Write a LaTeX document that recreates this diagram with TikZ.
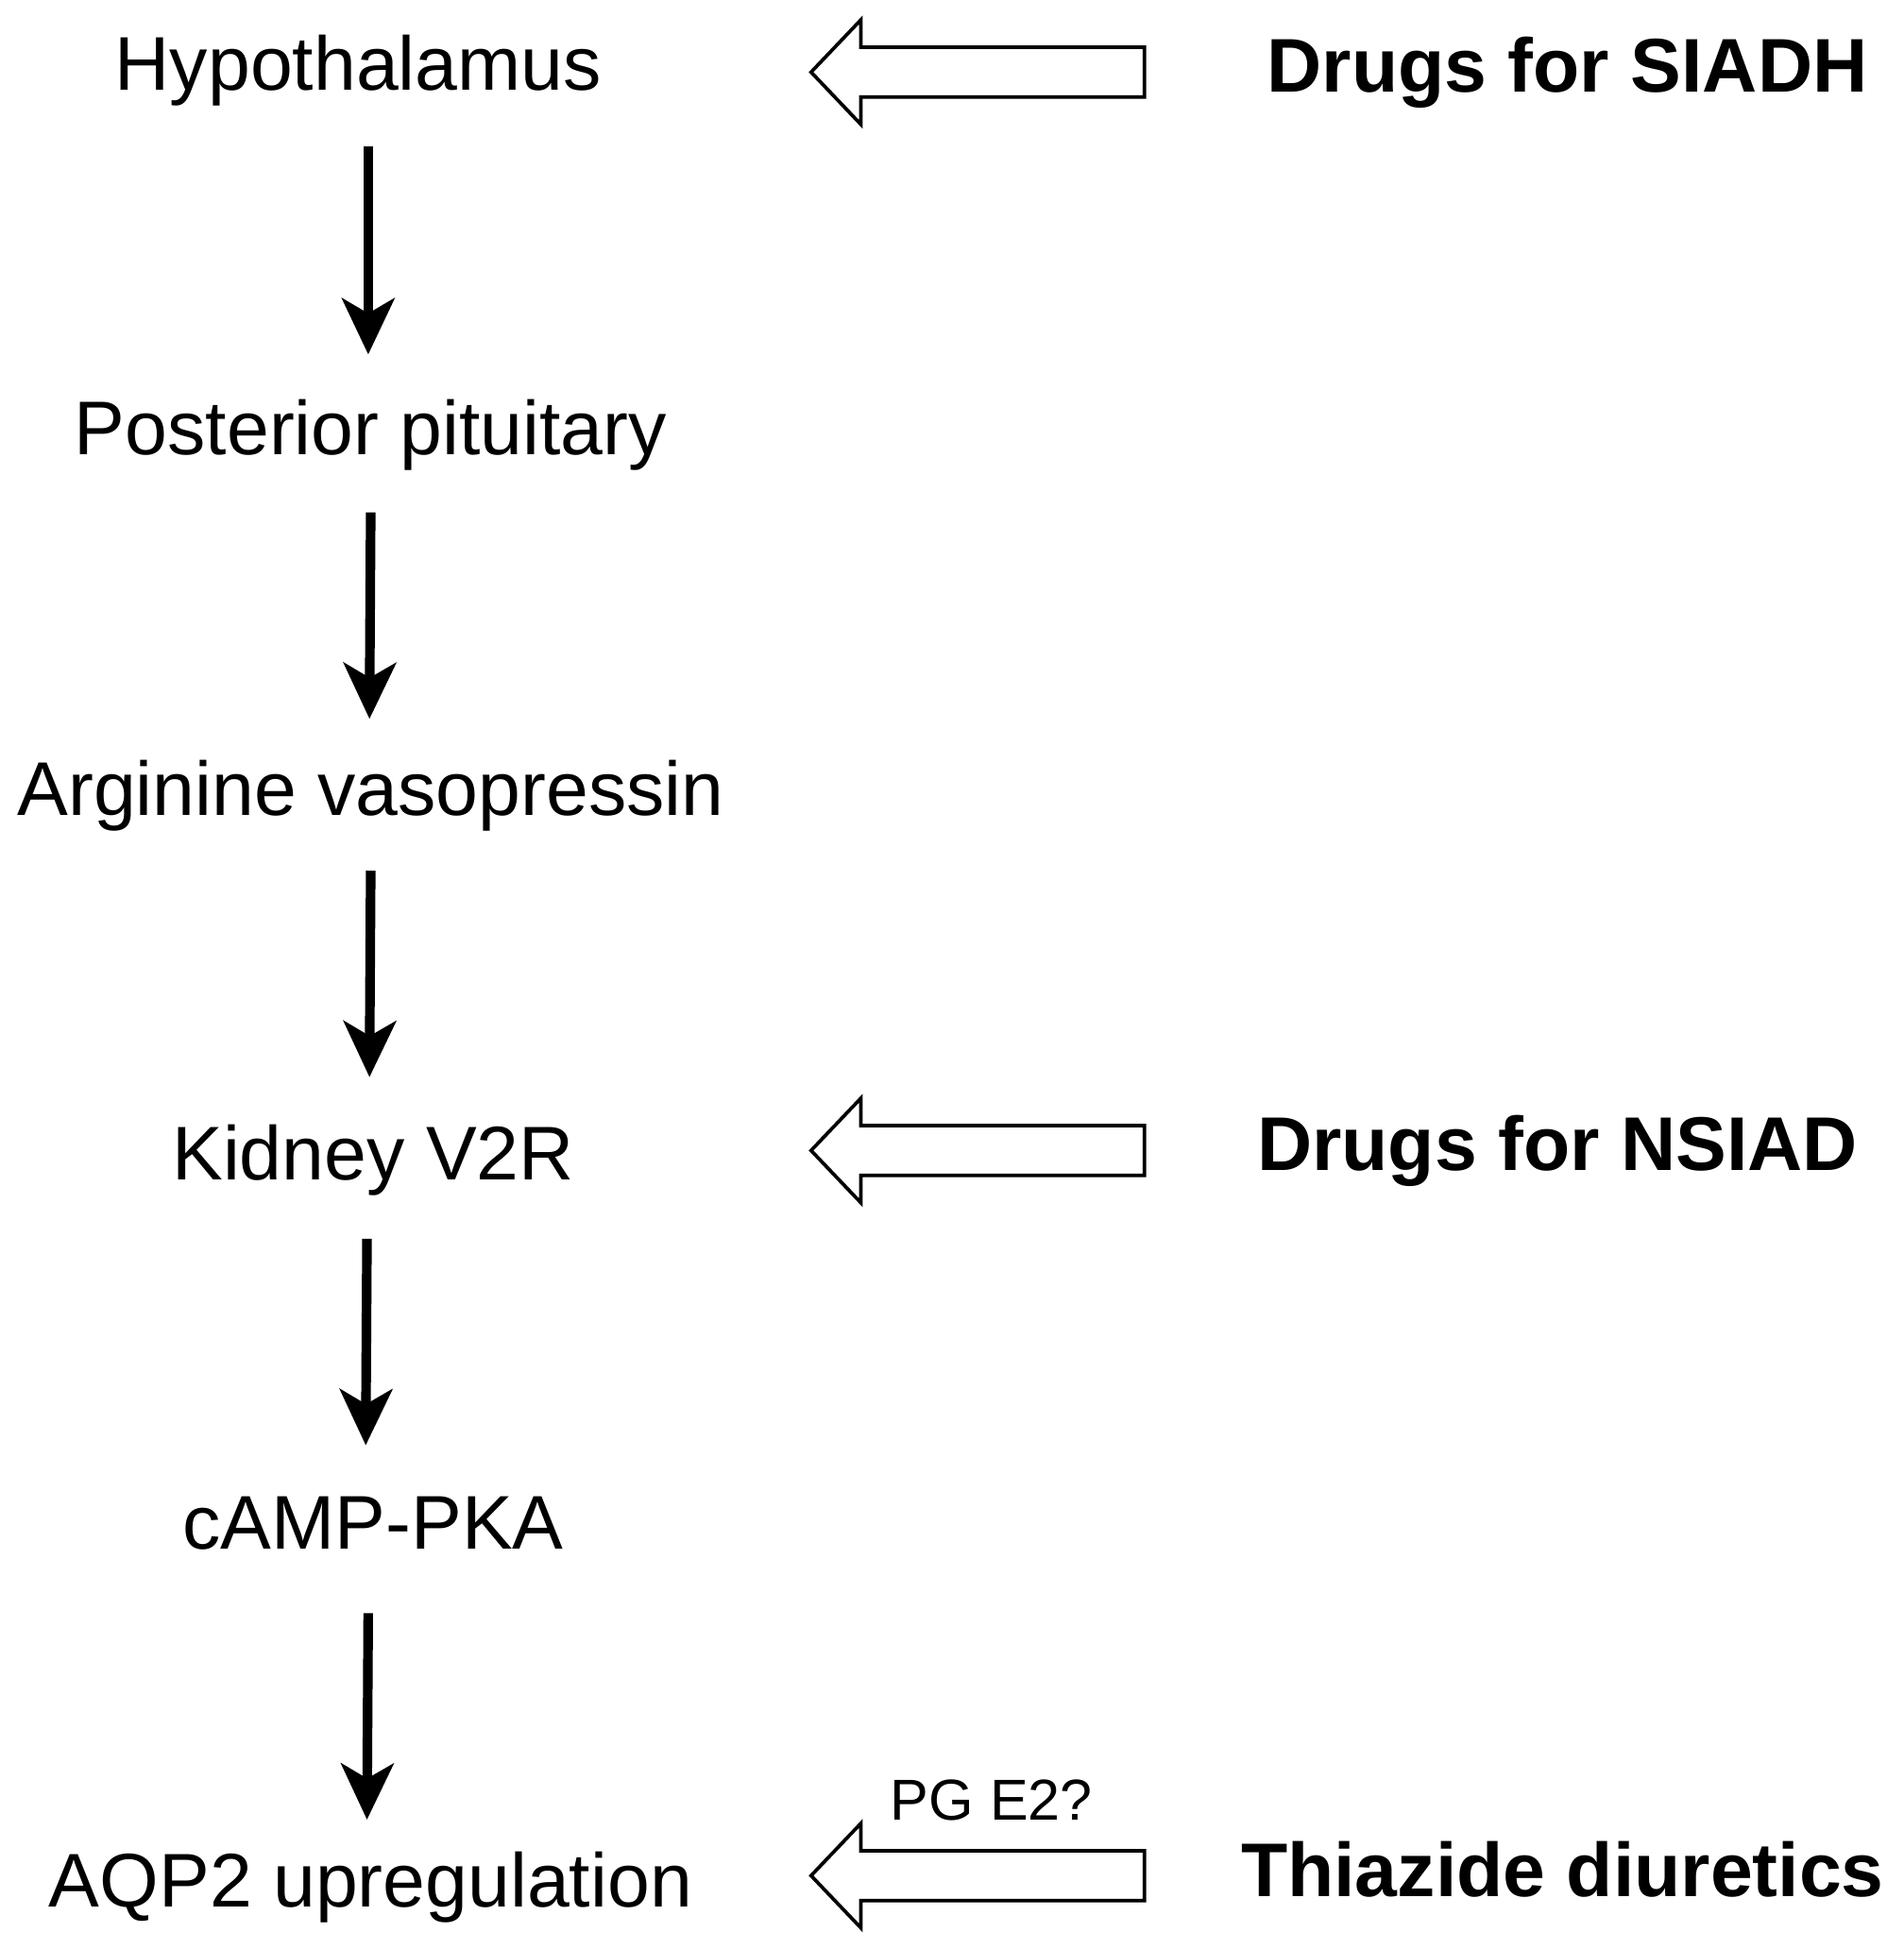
\documentclass[tikz,border=0pt]{standalone}
\usepackage{fontspec}
\setmainfont{Liberation Sans}
\usetikzlibrary{arrows.meta}
\begin{document}
\begin{tikzpicture}[x=0.01cm,y=-0.01cm,
  lbl/.style={font=\fontsize{17.4pt}{20pt}\selectfont,inner sep=0pt},
  drug/.style={font=\bfseries\fontsize{17.4pt}{20pt}\selectfont,inner sep=0pt},
  flow/.style={line width=2.2pt,-{Stealth[length=0.45cm,width=0.42cm,inset=0.12cm]}},
  hollow/.style={draw=black,fill=white,line width=0.8pt}]
\useasboundingbox (0,0) rectangle (1530,1567);
\node[lbl] (n1) at (288,57) {Hypothalamus};
\node[lbl] (n2) at (298,350) {Posterior pituitary};
\node[lbl] (n3) at (298,640) {Arginine vasopressin};
\node[lbl] (n4) at (300,933) {Kidney V2R};
\node[lbl] (n5) at (300,1225) {cAMP-PKA};
\node[lbl] (n6) at (298,1517) {AQP2 upregulation};
\draw[flow] (296,118) -- (296,285);
\draw[flow] (298,412) -- (297,578);
\draw[flow] (298,700) -- (297,866);
\draw[flow] (295,996) -- (294,1162);
\draw[flow] (296,1297) -- (295,1463);
\node[drug] (d1) at (1260,58) {Drugs for SIADH};
\node[drug] (d2) at (1252,925) {Drugs for NSIAD};
\node[drug] (d3) at (1256,1503) {Thiazide diuretics};
\node[inner sep=0pt,font=\fontsize{13.2pt}{15pt}\selectfont] (pg) at (797,1447) {PG E2?};
\foreach \y in {58,925,1508}{
  \draw[hollow] (652,\y) -- (692,\y-42) -- (692,\y-20) -- (920,\y-20) -- (920,\y+20) -- (692,\y+20) -- (692,\y+42) -- cycle;
}
\end{tikzpicture}
\end{document}
